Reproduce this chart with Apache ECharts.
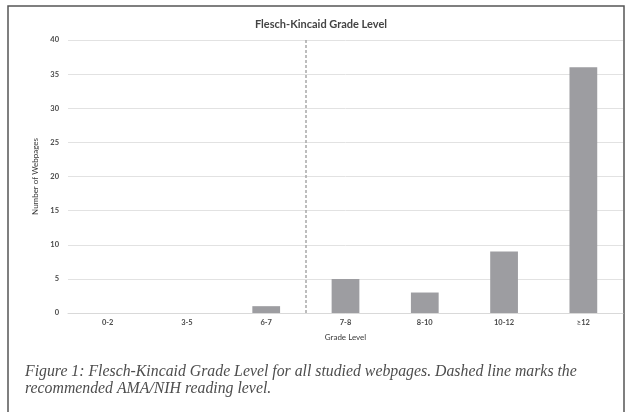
<!DOCTYPE html>
<html>
<head>
<meta charset="utf-8">
<script src="https://cdn.jsdelivr.net/npm/echarts@6/dist/echarts.min.js"></script>
<style>
  html, body { margin: 0; padding: 0; background: #fff; }
  #chart { width: 630px; height: 412px; }
</style>
</head>
<body>
<div id="chart"></div>
<script>
// Flesch-Kincaid grade level distribution
const gradeLevels = ['0-2', '3-5', '6-7', '7-8', '8-10', '10-12', '≥12'];
const webpageCounts = [0, 0, 1, 5, 3, 9, 36];
const yTicks = [0, 5, 10, 15, 20, 25, 30, 35, 40];
// recommended reading level sits between the 6-7 and 7-8 bins
const recommendedBoundary = 3;

const chart = echarts.init(document.getElementById('chart'), null, { renderer: 'canvas' });

const sansFont = 'Lato, "Open Sans", sans-serif';
const captionFont = 'italic 15.8px "Liberation Serif", "DejaVu Serif", serif';

chart.setOption({
  animation: false,
  backgroundColor: '#ffffff',
  title: {
    text: 'Flesch-Kincaid Grade Level',
    left: 316,
    top: 14,
    textAlign: 'center',
    textStyle: { fontFamily: sansFont, fontSize: 11, fontWeight: 'bold', color: '#444' }
  },
  grid: { left: 68, right: 7, top: 40, bottom: 99, containLabel: false },
  xAxis: [
    {
      type: 'category',
      data: gradeLevels,
      name: 'Grade Level',
      nameLocation: 'middle',
      nameGap: 20,
      nameTextStyle: { fontFamily: sansFont, fontSize: 8, color: '#3a3a3a' },
      axisLine: { show: true, lineStyle: { color: '#d9d9d9', width: 1 } },
      axisTick: { show: false },
      axisLabel: { fontFamily: sansFont, fontSize: 7.5, fontWeight: 'bold', color: '#4a4a4a', margin: 6 }
    },
    {
      type: 'value',
      min: 0,
      max: gradeLevels.length,
      show: false
    }
  ],
  yAxis: {
    type: 'value',
    min: yTicks[0],
    max: yTicks[yTicks.length - 1],
    interval: yTicks[1] - yTicks[0],
    name: 'Number of Webpages',
    nameLocation: 'middle',
    nameGap: 23,
    nameTextStyle: { fontFamily: sansFont, fontSize: 8, color: '#3a3a3a' },
    axisLine: { show: false },
    axisTick: { show: false },
    axisLabel: { fontFamily: sansFont, fontSize: 7.5, fontWeight: 'bold', color: '#4a4a4a', margin: 9 },
    splitLine: { lineStyle: { color: '#e2e2e2', width: 1 } }
  },
  series: [
    {
      type: 'bar',
      data: webpageCounts,
      barWidth: '35%',
      itemStyle: { color: '#9d9da1' },
      xAxisIndex: 0
    },
    {
      type: 'scatter',
      xAxisIndex: 1,
      data: [],
      markLine: {
        silent: true,
        symbol: ['none', 'none'],
        label: { show: false },
        lineStyle: { type: [3, 2], color: '#a8a8a8', width: 1.5 },
        data: [{ xAxis: recommendedBoundary }]
      }
    }
  ],
  graphic: [
    {
      type: 'rect',
      shape: { x: 8, y: 6, width: 616, height: 420 },
      style: { fill: 'none', stroke: '#555', lineWidth: 1.5 },
      silent: true
    },
    {
      type: 'text',
      left: 25,
      top: 364,
      style: {
        text: 'Figure 1: Flesch-Kincaid Grade Level for all studied webpages. Dashed line marks the',
        font: captionFont,
        fill: '#4d4d4d'
      }
    },
    {
      type: 'text',
      left: 25,
      top: 381,
      style: {
        text: 'recommended AMA/NIH reading level.',
        font: captionFont,
        fill: '#4d4d4d'
      }
    }
  ]
});
</script>
</body>
</html>
